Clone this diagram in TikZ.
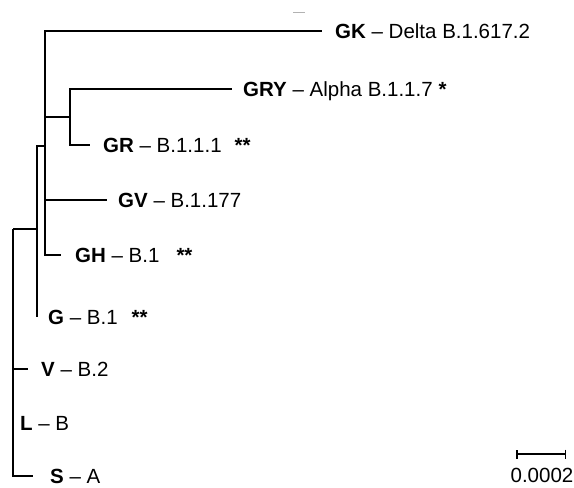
\documentclass[tikz,border=0pt]{standalone}
\usepackage{fontspec}
\setmainfont{Liberation Sans}
\usepackage{tikz}
\usetikzlibrary{arrows.meta}

\tikzset{
  branch/.style={line width=2pt},
  leaf/.style={anchor=west, inner sep=0pt, text height=14.6pt, text depth=0pt,
    font=\fontsize{20.5}{24}\selectfont},
}

\begin{document}
\begin{tikzpicture}[x=1pt, y=-1pt]
  \useasboundingbox (0,0) rectangle (574,488);
  % inner nodes of the tree
  \coordinate (root) at (13,229);
  \coordinate (kA) at (37,229);
  \coordinate (kB) at (45,146);
  \coordinate (kC) at (70,117);
  % branch tips
  \coordinate (tGK) at (322,31);
  \coordinate (tGRY) at (232,89);
  \coordinate (tGR) at (90,145);
  \coordinate (tGV) at (107,200);
  \coordinate (tGH) at (61,255);
  \coordinate (tG) at (37,317);
  \coordinate (tV) at (28,369);
  \coordinate (tS) at (33,476);

  \draw[branch] (root) -- (kA);
  \draw[branch] (root) |- (tV);
  \draw[branch] (root) |- (tS);
  \draw[branch] (kA) |- (kB);
  \draw[branch] (kA) -- (tG);
  \draw[branch] (kB) |- (tGK);
  \draw[branch] (kB) |- (kC);
  \draw[branch] (kB) |- (tGV);
  \draw[branch] (kB) |- (tGH);
  \draw[branch] (kC) |- (tGRY);
  \draw[branch] (kC) |- (tGR);

  % clade labels
  \foreach \nm/\lx/\ly/\abbr/\lin in
      {gk/335/31/GK/Delta B.1.617.2,
       gry/243/89/GRY/Alpha B.1.1.7\hspace{6pt}\textbf{*},
       gr/103/145/GR/B.1.1.1\hspace{13pt}\textbf{**},
       gv/118/200/GV/B.1.177,
       gh/75/255/GH/B.1\hspace{17pt}\textbf{**},
       g/48/317/G/B.1\hspace{14pt}\textbf{**},
       v/41/369/V/B.2,
       l/20/423/L/B,
       s/50/476/S/A} {
    \node[leaf] (\nm) at (\lx,\ly) {\textbf{\abbr} -- \lin};
  }

  % scale bar
  \coordinate (sbL) at (516,454);
  \coordinate (sbR) at (566,454);
  \draw[line width=1.5pt, {Bar[width=9pt]}-{Bar[width=9pt]}] (sbL) -- (sbR);
  \node[leaf, anchor=center] (sblbl) at (542,475) {0.0002};

  % stray mark at the top
  \draw[gray!60, line width=1pt] (293,12) -- (305,12);
\end{tikzpicture}
\end{document}
